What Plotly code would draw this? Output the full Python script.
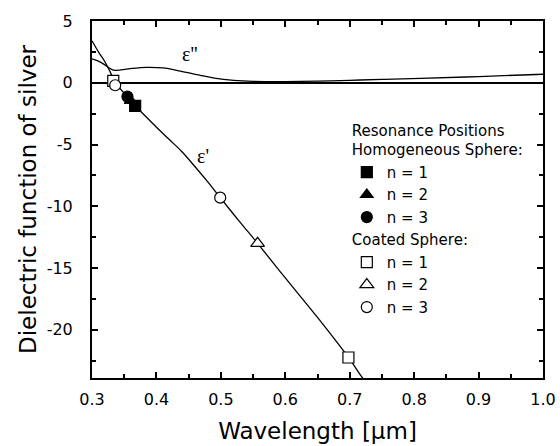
import plotly.graph_objects as go

# ---- data ----
wl_eps1 = [0.300, 0.310, 0.320, 0.328, 0.336, 0.345, 0.355, 0.367, 0.380, 0.400,
           0.420, 0.440, 0.460, 0.480, 0.499, 0.530, 0.557, 0.600, 0.650, 0.698, 0.720, 0.740]
eps1 = [3.4, 2.5, 1.7, 0.9, 0.0, -0.55, -1.12, -1.87, -2.55, -3.6,
        -4.6, -5.6, -6.8, -8.05, -9.3, -11.3, -13.0, -15.8, -19.0, -22.24, -23.9, -25.2]

wl_eps2 = [0.300, 0.310, 0.320, 0.328, 0.335, 0.345, 0.360, 0.385, 0.410, 0.437,
           0.468, 0.490, 0.520, 0.550, 0.600, 0.650, 0.700, 0.750, 0.810, 0.900, 1.000]
eps2 = [1.94, 1.75, 1.45, 1.15, 1.0, 1.05, 1.15, 1.25, 1.2, 0.95,
        0.6, 0.38, 0.2, 0.12, 0.1, 0.13, 0.2, 0.27, 0.35, 0.5, 0.69]

homog_n1_x, homog_n1_y = [0.367], [-1.87]
homog_n2_x, homog_n2_y = [0.360], [-1.45]
homog_n3_x, homog_n3_y = [0.355], [-1.12]
coated_n1_x, coated_n1_y = [0.333, 0.698], [0.15, -22.24]
coated_n2_x, coated_n2_y = [0.557], [-13.0]
coated_n3_x, coated_n3_y = [0.336, 0.499], [-0.2, -9.3]

x_ticks = [0.3, 0.4, 0.5, 0.6, 0.7, 0.8, 0.9, 1.0]
x_tick_text = ["0.3", "0.4", "0.5", "0.6", "0.7", "0.8", "0.9", "1.0"]
y_ticks = [5, 0, -5, -10, -15, -20]
y_tick_text = ["5", "0", "-5", "-10", "-15", "-20"]

FONT = "DejaVu Sans, Arial, sans-serif"
SERIF = "Liberation Serif, Times New Roman, serif"

fig = go.Figure()

fig.add_trace(go.Scatter(x=wl_eps2, y=eps2, mode="lines", line=dict(color="black", width=1.3, shape="spline"),
                         showlegend=False, hoverinfo="skip"))
fig.add_trace(go.Scatter(x=wl_eps1, y=eps1, mode="lines", line=dict(color="black", width=1.3, shape="spline"),
                         showlegend=False, hoverinfo="skip"))

def pts(x, y, symbol, name, group, gtitle, fill, size=11):
    return go.Scatter(
        x=x, y=y, mode="markers", name=name,
        legendgroup=group, legendgrouptitle=dict(text=gtitle) if gtitle else None,
        marker=dict(symbol=symbol, size=size, color=fill, line=dict(color="black", width=1.2)),
        cliponaxis=False,
    )

fig.add_trace(pts(homog_n1_x, homog_n1_y, "square", "n = 1", "homog",
                  "Resonance Positions<br>Homogeneous Sphere:", "black"))
fig.add_trace(pts(homog_n2_x, homog_n2_y, "triangle-up", "n = 2", "homog", None, "black"))
fig.add_trace(pts(homog_n3_x, homog_n3_y, "circle", "n = 3", "homog", None, "black"))
fig.add_trace(pts(coated_n1_x, coated_n1_y, "square", "n = 1", "coated", "Coated Sphere:", "white"))
fig.add_trace(pts(coated_n2_x, coated_n2_y, "triangle-up", "n = 2", "coated", None, "white", 12))
fig.add_trace(pts(coated_n3_x, coated_n3_y, "circle", "n = 3", "coated", None, "white"))

fig.add_annotation(x=0.4524, y=2.3, text="ε''", showarrow=False,
                   font=dict(family=SERIF, size=20, color="black"))
fig.add_annotation(x=0.4726, y=-5.9, text="ε'", showarrow=False,
                   font=dict(family=SERIF, size=20, color="black"))

axis_common = dict(
    showline=True, linecolor="black", linewidth=2, mirror="allticks",
    ticks="inside", ticklen=6, tickwidth=1.5, tickcolor="black",
    showgrid=False, tickfont=dict(family=FONT, size=16, color="black"),
)

fig.update_xaxes(
    range=[0.3, 1.0], tickvals=x_ticks, ticktext=x_tick_text,
    minor=dict(dtick=0.05, tick0=0.3, ticks="inside", ticklen=4, tickwidth=1.5, tickcolor="black"),
    title=dict(text="Wavelength [μm]", font=dict(family=FONT, size=23, color="black")),
    zeroline=False, ticklabelstandoff=6, automargin=False,
    **axis_common,
)
fig.update_yaxes(
    range=[-23.9, 5], tickvals=y_ticks, ticktext=y_tick_text,
    minor=dict(dtick=2.5, tick0=0, ticks="inside", ticklen=4, tickwidth=1.5, tickcolor="black"),
    title=dict(text="Dielectric function of silver", font=dict(family=FONT, size=23, color="black"), standoff=4),
    zeroline=True, zerolinecolor="black", zerolinewidth=2.2, ticklabelstandoff=14, automargin=True,
    **axis_common,
)

fig.update_layout(
    width=560, height=446,
    margin=dict(l=92, r=17, t=16, b=68),
    paper_bgcolor="white", plot_bgcolor="white",
    font=dict(family=FONT, color="black"),
    legend=dict(
        x=0.565, y=0.74, xanchor="left", yanchor="top",
        font=dict(family=FONT, size=15, color="black"),
        grouptitlefont=dict(family=FONT, size=15, color="black"),
        traceorder="grouped", tracegroupgap=0,
        bgcolor="rgba(0,0,0,0)", itemclick=False,
    ),
)

fig.write_html("out.html")
